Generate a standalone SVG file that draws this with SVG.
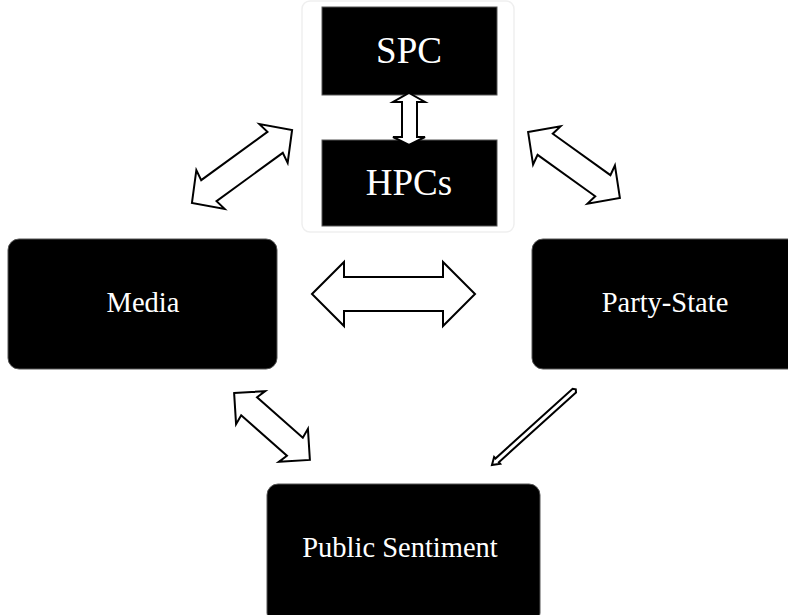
<svg xmlns="http://www.w3.org/2000/svg" width="788" height="615" viewBox="0 0 788 615">
  <style>
    .box { fill: #000; stroke: #555; stroke-width: 1; }
    .lbl { fill: #fff; font-family: "Liberation Serif", "Times New Roman", serif; text-anchor: middle; }
    .arr { fill: #fff; stroke: #000; stroke-width: 2; stroke-linejoin: miter; }
  </style>
  <rect x="0" y="0" width="788" height="615" fill="#fff"/>
  <rect id="container" x="302" y="1" width="212" height="231" rx="8" fill="#fff" stroke="#efefef" stroke-width="1.5"/>

  <g id="spc">
    <rect class="box" x="322" y="7" width="175" height="88"/>
    <text class="lbl" x="409" y="63" font-size="37">SPC</text>
  </g>
  <g id="hpcs">
    <rect class="box" x="322" y="140" width="175" height="86"/>
    <text class="lbl" x="409" y="195" font-size="37">HPCs</text>
  </g>
  <g id="media">
    <rect class="box" x="8" y="239" width="269" height="130" rx="11"/>
    <text class="lbl" x="143" y="312" font-size="28.5">Media</text>
  </g>
  <g id="party-state">
    <rect class="box" x="532" y="239" width="270" height="130" rx="11"/>
    <text class="lbl" x="665" y="312" font-size="28.5">Party-State</text>
  </g>
  <g id="public-sentiment">
    <rect class="box" x="267" y="484" width="273" height="140" rx="11"/>
    <text class="lbl" x="400" y="557" font-size="28.5">Public Sentiment</text>
  </g>

  <g id="connectors">
    <polygon class="arr" points="409,93 425,102 417,102 417,137 425,137 409,145 393,137 402,137 402,102 393,102"/>
    <polygon class="arr" points="312,294 344,262 344,277 443,277 443,262 475,294 443,326 443,311 344,311 344,326"/>
    <polygon class="arr" transform="translate(242,166.5) rotate(-36.1)" points="-62,0 -39,-24 -41,-13 41,-13 39,-24 62,0 39,24 41,13 -41,13 -39,24"/>
    <polygon class="arr" transform="translate(574,165) rotate(35.7)" points="-56.5,0 -33.5,-23.5 -35.5,-13 35.5,-13 33.5,-23.5 56.5,0 33.5,23.5 35.5,13 -35.5,13 -33.5,23.5"/>
    <polygon class="arr" transform="translate(272,426.5) rotate(41.4)" points="-50.5,0 -28.5,-22 -30.5,-12 30.5,-12 28.5,-22 50.5,0 28.5,22 30.5,12 -30.5,12 -28.5,22"/>
    <polygon class="arr" stroke-width="1.6" transform="translate(533.5,427.5) rotate(137.9)" points="-55,-2.5 49,-2.5 49,-4.5 56,0 49,4.5 49,2.5 -55,2.5 -57,0"/>
  </g>
</svg>
